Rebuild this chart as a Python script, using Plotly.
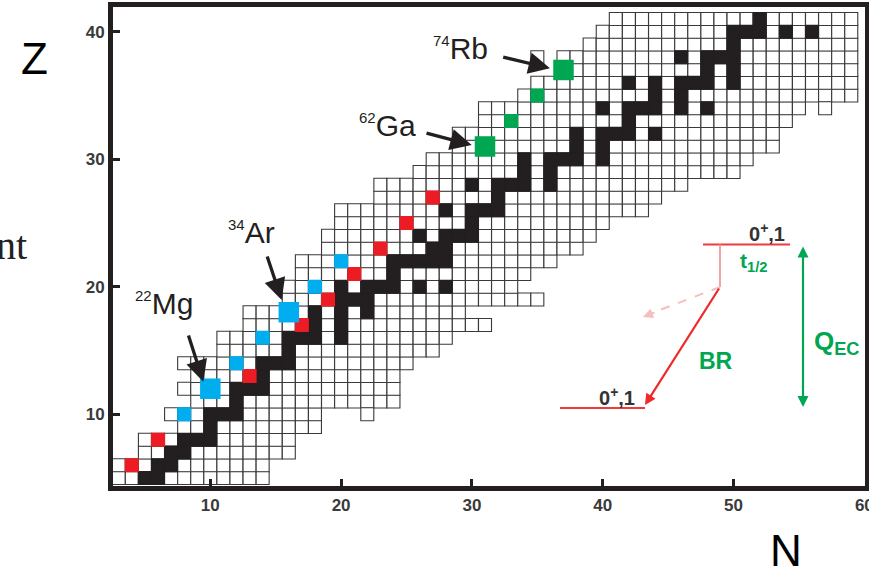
import plotly.graph_objects as go

# ---------------- data ----------------
# one row of the nuclide chart per proton number Z: first / last neutron number drawn
row_Z = [5, 6, 7, 8, 9, 10, 11, 12, 13, 14, 15, 16, 17, 18, 19, 20, 21,
         22, 23, 24, 25, 26, 27, 28, 29, 30, 31, 32, 33, 34, 35, 36, 37,
         38, 39, 40, 41]
row_Nmin = [3, 3, 5, 5, 8, 7, 9, 8, 9, 8, 11, 11, 13, 13, 16, 16, 17,
            17, 19, 19, 20, 20, 23, 23, 26, 27, 29, 29, 31, 31, 34, 35, 37,
            35, 39, 40, 41]
row_Nmax = [14, 14, 16, 16, 18, 18, 24, 24, 24, 25, 27, 28, 31, 29, 35, 33, 34,
            36, 38, 39, 40, 43, 44, 46, 50, 51, 53, 53, 54, 55, 59, 59, 59,
            59, 59, 59, 59]
# isolated cells outside a row range, and holes inside a row
extra_N = [22, 57]
extra_Z = [10, 34]
hole_N = [36]
hole_Z = [38]

# stable nuclides (black), listed per row (same order as row_Z)
stable_N_rows = [
    [5, 6], [6, 7], [7, 8], [8, 9, 10], [10], [10, 11, 12], [12], [12, 13, 14],
    [14], [14, 15, 16], [16], [16, 17, 18, 20], [18, 20], [18, 20, 22],
    [20, 21, 22], [20, 22, 23, 24, 26, 28], [24], [24, 25, 26, 27, 28],
    [27, 28], [26, 28, 29, 30], [30], [28, 30, 31, 32], [32],
    [30, 32, 33, 34, 36], [34, 36], [34, 36, 37, 38, 40], [38, 40],
    [38, 40, 41, 42, 44], [42], [40, 42, 43, 44, 46, 48], [44, 46],
    [42, 44, 46, 47, 48, 50], [48, 50], [46, 48, 49, 50], [50],
    [50, 51, 52, 54, 56], [52]]

# superallowed emitters
red_N = [4, 6, 13, 17, 19, 21, 23, 25, 27]
red_Z = [6, 8, 13, 17, 19, 21, 23, 25, 27]
blue_N = [8, 12, 14, 18, 20]
blue_Z = [10, 14, 16, 20, 22]
blue_big_N = [10, 16]
blue_big_Z = [12, 18]
green_N = [33, 35]
green_Z = [33, 35]
green_big_N = [31, 37]
green_big_Z = [31, 37]

# labelled nuclei: mass number, element
label_mass = ["22", "34", "62", "74"]
label_elem = ["Mg", "Ar", "Ga", "Rb"]

x_ticks = [10, 20, 30, 40, 50, 60]
y_ticks = [10, 20, 30, 40]

# ---------------- build cell lists ----------------
holes = set(zip(hole_N, hole_Z))
cell_N, cell_Z = [], []
for z, a, b in zip(row_Z, row_Nmin, row_Nmax):
    for n in range(a, b + 1):
        if (n, z) not in holes:
            cell_N.append(n)
            cell_Z.append(z)
cell_N += extra_N
cell_Z += extra_Z

st_N, st_Z = [], []
for z, ns in zip(row_Z, stable_N_rows):
    for n in ns:
        st_N.append(n)
        st_Z.append(z)

# ---------------- geometry helpers (pixel -> axis units) ----------------
X0, X1 = 2.56, 60.05
Y0, Y1 = 4.37, 41.94
L, R, T, B = 113, 865, 7, 486
W, H = 869, 574


def dx(px):
    return X0 + (px - L) * (X1 - X0) / (R - L)


def dy(py):
    return Y1 - (py - T) * (Y1 - Y0) / (B - T)


def px_(px):
    return (px - L) / (R - L)


def py_(py):
    return (B - py) / (B - T)


INK = "#231F20"
RED = "#ED1C24"
BLUE = "#00AEEF"
GREEN = "#00A651"

fig = go.Figure()


def cells(xs, ys, size, fill, line_color=None, line_w=0.0):
    fig.add_trace(go.Scatter(
        x=xs, y=ys, mode="markers", hoverinfo="skip", showlegend=False,
        marker=dict(symbol="square", size=size, color=fill,
                    line=dict(color=line_color or fill, width=line_w))))


cells(cell_N, cell_Z, 13, "white", "#3a3a3a", 1.1)
cells(st_N, st_Z, 13, INK, INK, 1.1)
cells(red_N, red_Z, 14, RED)
cells(blue_N, blue_Z, 14, BLUE)
cells(green_N, green_Z, 14, GREEN)
cells(blue_big_N, blue_big_Z, 20.5, BLUE)
cells(green_big_N, green_big_Z, 20.5, GREEN)

ann = []
shapes = []

# ---- nuclide labels with arrows (pixel positions of text / arrows) ----
lab_right = [195, 277, 418, 490]
lab_bottom = [322, 251, 144, 67]
arr_tail = [(188, 334), (266.7, 255), (425, 132.7), (501.7, 56.7)]
arr_tip = [(203.3, 381.7), (281.7, 300), (471.7, 145), (550, 68.3)]
for m, el, xr, yb, tl, tp in zip(label_mass, label_elem, lab_right, lab_bottom,
                                 arr_tail, arr_tip):
    ann.append(dict(
        x=dx(xr), y=dy(yb), xref="x", yref="y", xanchor="right", yanchor="bottom",
        text=f"<sup><span style='font-size:15px'>{m}</span></sup>{el}",
        showarrow=False, font=dict(family="Liberation Sans, Arial", size=30, color=INK)))
    ann.append(dict(
        x=dx(tp[0]), y=dy(tp[1]), ax=dx(tl[0]), ay=dy(tl[1]),
        xref="x", yref="y", axref="x", ayref="y", text="",
        showarrow=True, arrowhead=2, arrowsize=1.3, arrowwidth=3.3,
        arrowcolor=INK, standoff=0, startstandoff=0))

# ---- decay scheme inset ----
LVL = "#EE3A3A"
shapes.append(dict(type="line", xref="x", yref="y", x0=dx(703), x1=dx(790),
                   y0=dy(244.5), y1=dy(244.5), line=dict(color=LVL, width=2)))
shapes.append(dict(type="line", xref="x", yref="y", x0=dx(560), x1=dx(645),
                   y0=dy(408), y1=dy(408), line=dict(color=LVL, width=2)))
shapes.append(dict(type="line", xref="x", yref="y", x0=dx(720), x1=dx(720),
                   y0=dy(244.5), y1=dy(287), line=dict(color="#F29A9A", width=1.8)))
shapes.append(dict(type="line", xref="x", yref="y", x0=dx(720), x1=dx(652),
                   y0=dy(287), y1=dy(313), line=dict(color="#F6BDBD", width=2, dash="dash")))
ann.append(dict(x=dx(643), y=dy(317), ax=dx(656), ay=dy(312), xref="x", yref="y",
                axref="x", ayref="y", text="", showarrow=True, arrowhead=2,
                arrowsize=1.0, arrowwidth=2, arrowcolor="#F6BDBD", standoff=0))
ann.append(dict(x=dx(645), y=dy(405), ax=dx(720), ay=dy(287), xref="x", yref="y",
                axref="x", ayref="y", text="", showarrow=True, arrowhead=2,
                arrowsize=1.0, arrowwidth=2.2, arrowcolor="#EE2A2A", standoff=0))
ann.append(dict(x=dx(803), y=dy(407), ax=dx(803), ay=dy(245), xref="x", yref="y",
                axref="x", ayref="y", text="", showarrow=True, arrowhead=2,
                arrowside="end+start", arrowsize=1.0, arrowwidth=2.2,
                arrowcolor=GREEN, standoff=0, startstandoff=0))

BOLD = dict(family="Liberation Sans, Arial", weight="bold")
ann.append(dict(x=dx(767), y=dy(232), xref="x", yref="y", showarrow=False,
                text="0<sup>+</sup>,1", font=dict(**BOLD, size=20, color="#333333")))
ann.append(dict(x=dx(617), y=dy(396), xref="x", yref="y", showarrow=False,
                text="0<sup>+</sup>,1", font=dict(**BOLD, size=20, color="#333333")))
ann.append(dict(x=dx(753), y=dy(262), xref="x", yref="y", showarrow=False,
                text="t<sub>1/2</sub>", font=dict(**BOLD, size=21, color=GREEN)))
ann.append(dict(x=dx(716), y=dy(361), xref="x", yref="y", showarrow=False,
                text="BR", font=dict(**BOLD, size=23, color=GREEN)))
ann.append(dict(x=dx(837), y=dy(342), xref="x", yref="y", showarrow=False,
                text="Q<sub>EC</sub>", font=dict(**BOLD, size=26, color=GREEN)))

# ---- outer texts ----
ann.append(dict(x=px_(34), y=py_(58), xref="paper", yref="paper", showarrow=False,
                xanchor="center", yanchor="middle",
                text="Z", font=dict(family="Liberation Sans, Arial", size=44, color="black")))
ann.append(dict(x=px_(786), y=py_(550), xref="paper", yref="paper", showarrow=False,
                xanchor="center", yanchor="middle",
                text="N", font=dict(family="Liberation Sans, Arial", size=44, color="black")))
ann.append(dict(x=px_(29), y=py_(245), xref="paper", yref="paper", showarrow=False,
                xanchor="right", yanchor="middle", text="nt",
                font=dict(family="Liberation Serif, serif", size=40, color="#222222")))

axis_common = dict(showgrid=False, zeroline=False, showline=True, linewidth=5,
                   linecolor=INK, mirror=True, ticks="inside", ticklen=7,
                   tickwidth=3, tickcolor=INK, automargin=False,
                   ticklabeloverflow="allow",
                   tickfont=dict(family="Liberation Sans, Arial", size=17,
                                 color="#3a3a3a", weight="bold"))

fig.update_layout(
    width=W, height=H, margin=dict(l=L, r=W - R, t=T, b=H - B, autoexpand=False),
    paper_bgcolor="white", plot_bgcolor="white", showlegend=False,
    xaxis=dict(range=[X0, X1], tickvals=x_ticks, **axis_common),
    yaxis=dict(range=[Y0, Y1], tickvals=y_ticks, **axis_common),
    annotations=ann, shapes=shapes,
)

fig.write_html("out.html")
